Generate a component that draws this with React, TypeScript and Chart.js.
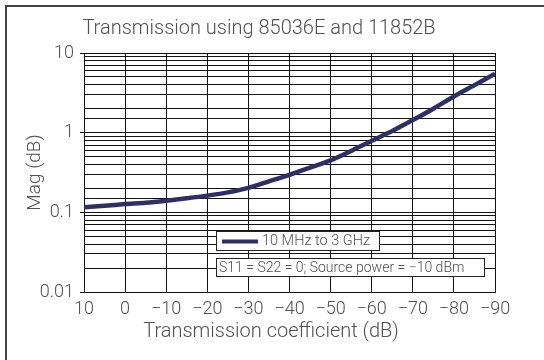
import React, { useEffect, useRef } from "react";
import { Chart, registerables } from "chart.js";

Chart.register(...registerables);

const chartTitle = "Transmission using 85036E and 11852B";
const xTitle = "Transmission coefficient (dB)";
const yTitle = "Mag (dB)";
const seriesLabel = "10 MHz to 3 GHz";
const noteText = "S11 = S22 = 0; Source power = \u221210 dBm";

const transmissionDb = [10, 5, 0, -5, -10, -15, -20, -25, -30, -35, -40, -45, -50, -55, -60, -65, -70, -75, -80, -85, -90];
const magDb = [0.116, 0.121, 0.127, 0.132, 0.14, 0.15, 0.162, 0.178, 0.203, 0.245, 0.296, 0.365, 0.45, 0.59, 0.79, 1.05, 1.44, 2.0, 2.85, 3.95, 5.5];
const yMajorTicks = [0.01, 0.1, 1, 10];

const FONT = "Roboto";
const TEXT_COLOR = "#505050";
const LINE_COLOR = "#2e3062";

const isMajor = (v: number) => yMajorTicks.some((m) => Math.abs(v - m) / m < 1e-6);

const overlayPlugin = {
  id: "overlay",
  afterDraw(chart: any) {
    const ctx = chart.ctx;
    const area = chart.chartArea;
    ctx.save();
    // Chart title
    ctx.fillStyle = TEXT_COLOR;
    ctx.font = `300 20px ${FONT}`;
    ctx.textAlign = "center";
    ctx.textBaseline = "middle";
    ctx.fillText(chartTitle, 259, 29);
    // X axis title
    ctx.fillText(xTitle, 271, 332);

    // Legend box 1
    const ds = chart.data.datasets[0];
    ctx.font = `300 14.5px ${FONT}`;
    ctx.textAlign = "left";
    const bx = area.left + 132;
    const by1 = area.top + 178;
    const w1 = 163;
    const h = 19;
    ctx.fillStyle = "#fff";
    ctx.fillRect(bx, by1, w1, h);
    ctx.strokeStyle = "#222";
    ctx.lineWidth = 1;
    ctx.strokeRect(bx + 0.5, by1 + 0.5, w1, h);
    ctx.strokeStyle = ds.borderColor;
    ctx.lineWidth = 4;
    ctx.beginPath();
    ctx.moveTo(bx + 6, by1 + h / 2 + 1);
    ctx.lineTo(bx + 42, by1 + h / 2 + 1);
    ctx.stroke();
    ctx.fillStyle = TEXT_COLOR;
    ctx.fillText(ds.label, bx + 46, by1 + h / 2 + 1);

    // Legend box 2
    const by2 = area.top + 205;
    const w2 = 268;
    ctx.font = `300 14px ${FONT}`;
    ctx.fillStyle = "#fff";
    ctx.fillRect(bx, by2, w2, h - 1);
    ctx.strokeStyle = "#222";
    ctx.lineWidth = 1;
    ctx.strokeRect(bx + 0.5, by2 + 0.5, w2, h - 1);
    ctx.fillStyle = TEXT_COLOR;
    ctx.fillText(noteText, bx + 3, by2 + h / 2 + 0.5);
    ctx.restore();
  },
};

export default function App() {
  const canvasRef = useRef<HTMLCanvasElement | null>(null);

  useEffect(() => {
    const canvas = canvasRef.current;
    if (!canvas) return;
    const chart = new Chart(canvas, {
      type: "line",
      data: {
        datasets: [
          {
            label: seriesLabel,
            data: transmissionDb.map((x, i) => ({ x, y: magDb[i] })),
            borderColor: LINE_COLOR,
            borderWidth: 4.5,
            pointRadius: 0,
            tension: 0.25,
            fill: false,
          },
        ],
      },
      options: {
        responsive: false,
        animation: false,
        devicePixelRatio: 1,
        layout: { padding: { top: 53, right: 49, left: 0, bottom: 0 } },
        plugins: {
          legend: { display: false },
          title: { display: false },
          tooltip: { enabled: false },
        },
        scales: {
          x: {
            type: "linear",
            min: -90,
            max: 10,
            reverse: true,
            afterFit: (scale: any) => {
              scale.height = 68;
            },
            ticks: {
              stepSize: 10,
              padding: 7,
              maxRotation: 0,
              autoSkip: false,
              color: TEXT_COLOR,
              font: { family: FONT, size: 18, weight: "300" },
              callback: (v: any) => String(v).replace("-", "\u2212"),
            },
            grid: { color: "#111", lineWidth: 1, drawTicks: false },
            border: { color: "#111", width: 1 },
            title: { display: false },
          },
          y: {
            type: "logarithmic",
            min: 0.01,
            max: 10,
            afterFit: (scale: any) => {
              scale.width = 84;
            },
            ticks: {
              autoSkip: false,
              padding: 6,
              color: TEXT_COLOR,
              font: { family: FONT, size: 18, weight: "300" },
              callback: (v: any) => (isMajor(Number(v)) ? String(Number(Number(v).toPrecision(1))) : ""),
            },
            grid: {
              color: "#111",
              lineWidth: 1,
              tickLength: 4,
              tickColor: (c: any) => (c.tick && isMajor(c.tick.value) ? "#111" : "rgba(0,0,0,0)"),
            },
            border: { color: "#111", width: 1 },
            title: {
              display: true,
              text: yTitle,
              color: TEXT_COLOR,
              font: { family: FONT, size: 19, weight: "300" },
              padding: { top: 24, bottom: 0 },
            },
          },
        },
      },
      plugins: [overlayPlugin],
    } as any);
    return () => chart.destroy();
  }, []);

  return (
    <div style={{ position: "absolute", left: 0, top: 0, width: 544, height: 360, overflow: "hidden", background: "#fff" }}>
      <canvas ref={canvasRef} width={544} height={360} style={{ display: "block", position: "absolute", left: 0, top: 0 }} />
      <div
        style={{
          position: "absolute",
          left: 5,
          top: 5,
          width: 600,
          height: 400,
          borderLeft: "2px solid #444",
          borderTop: "2px solid #444",
          pointerEvents: "none",
        }}
      />
    </div>
  );
}
